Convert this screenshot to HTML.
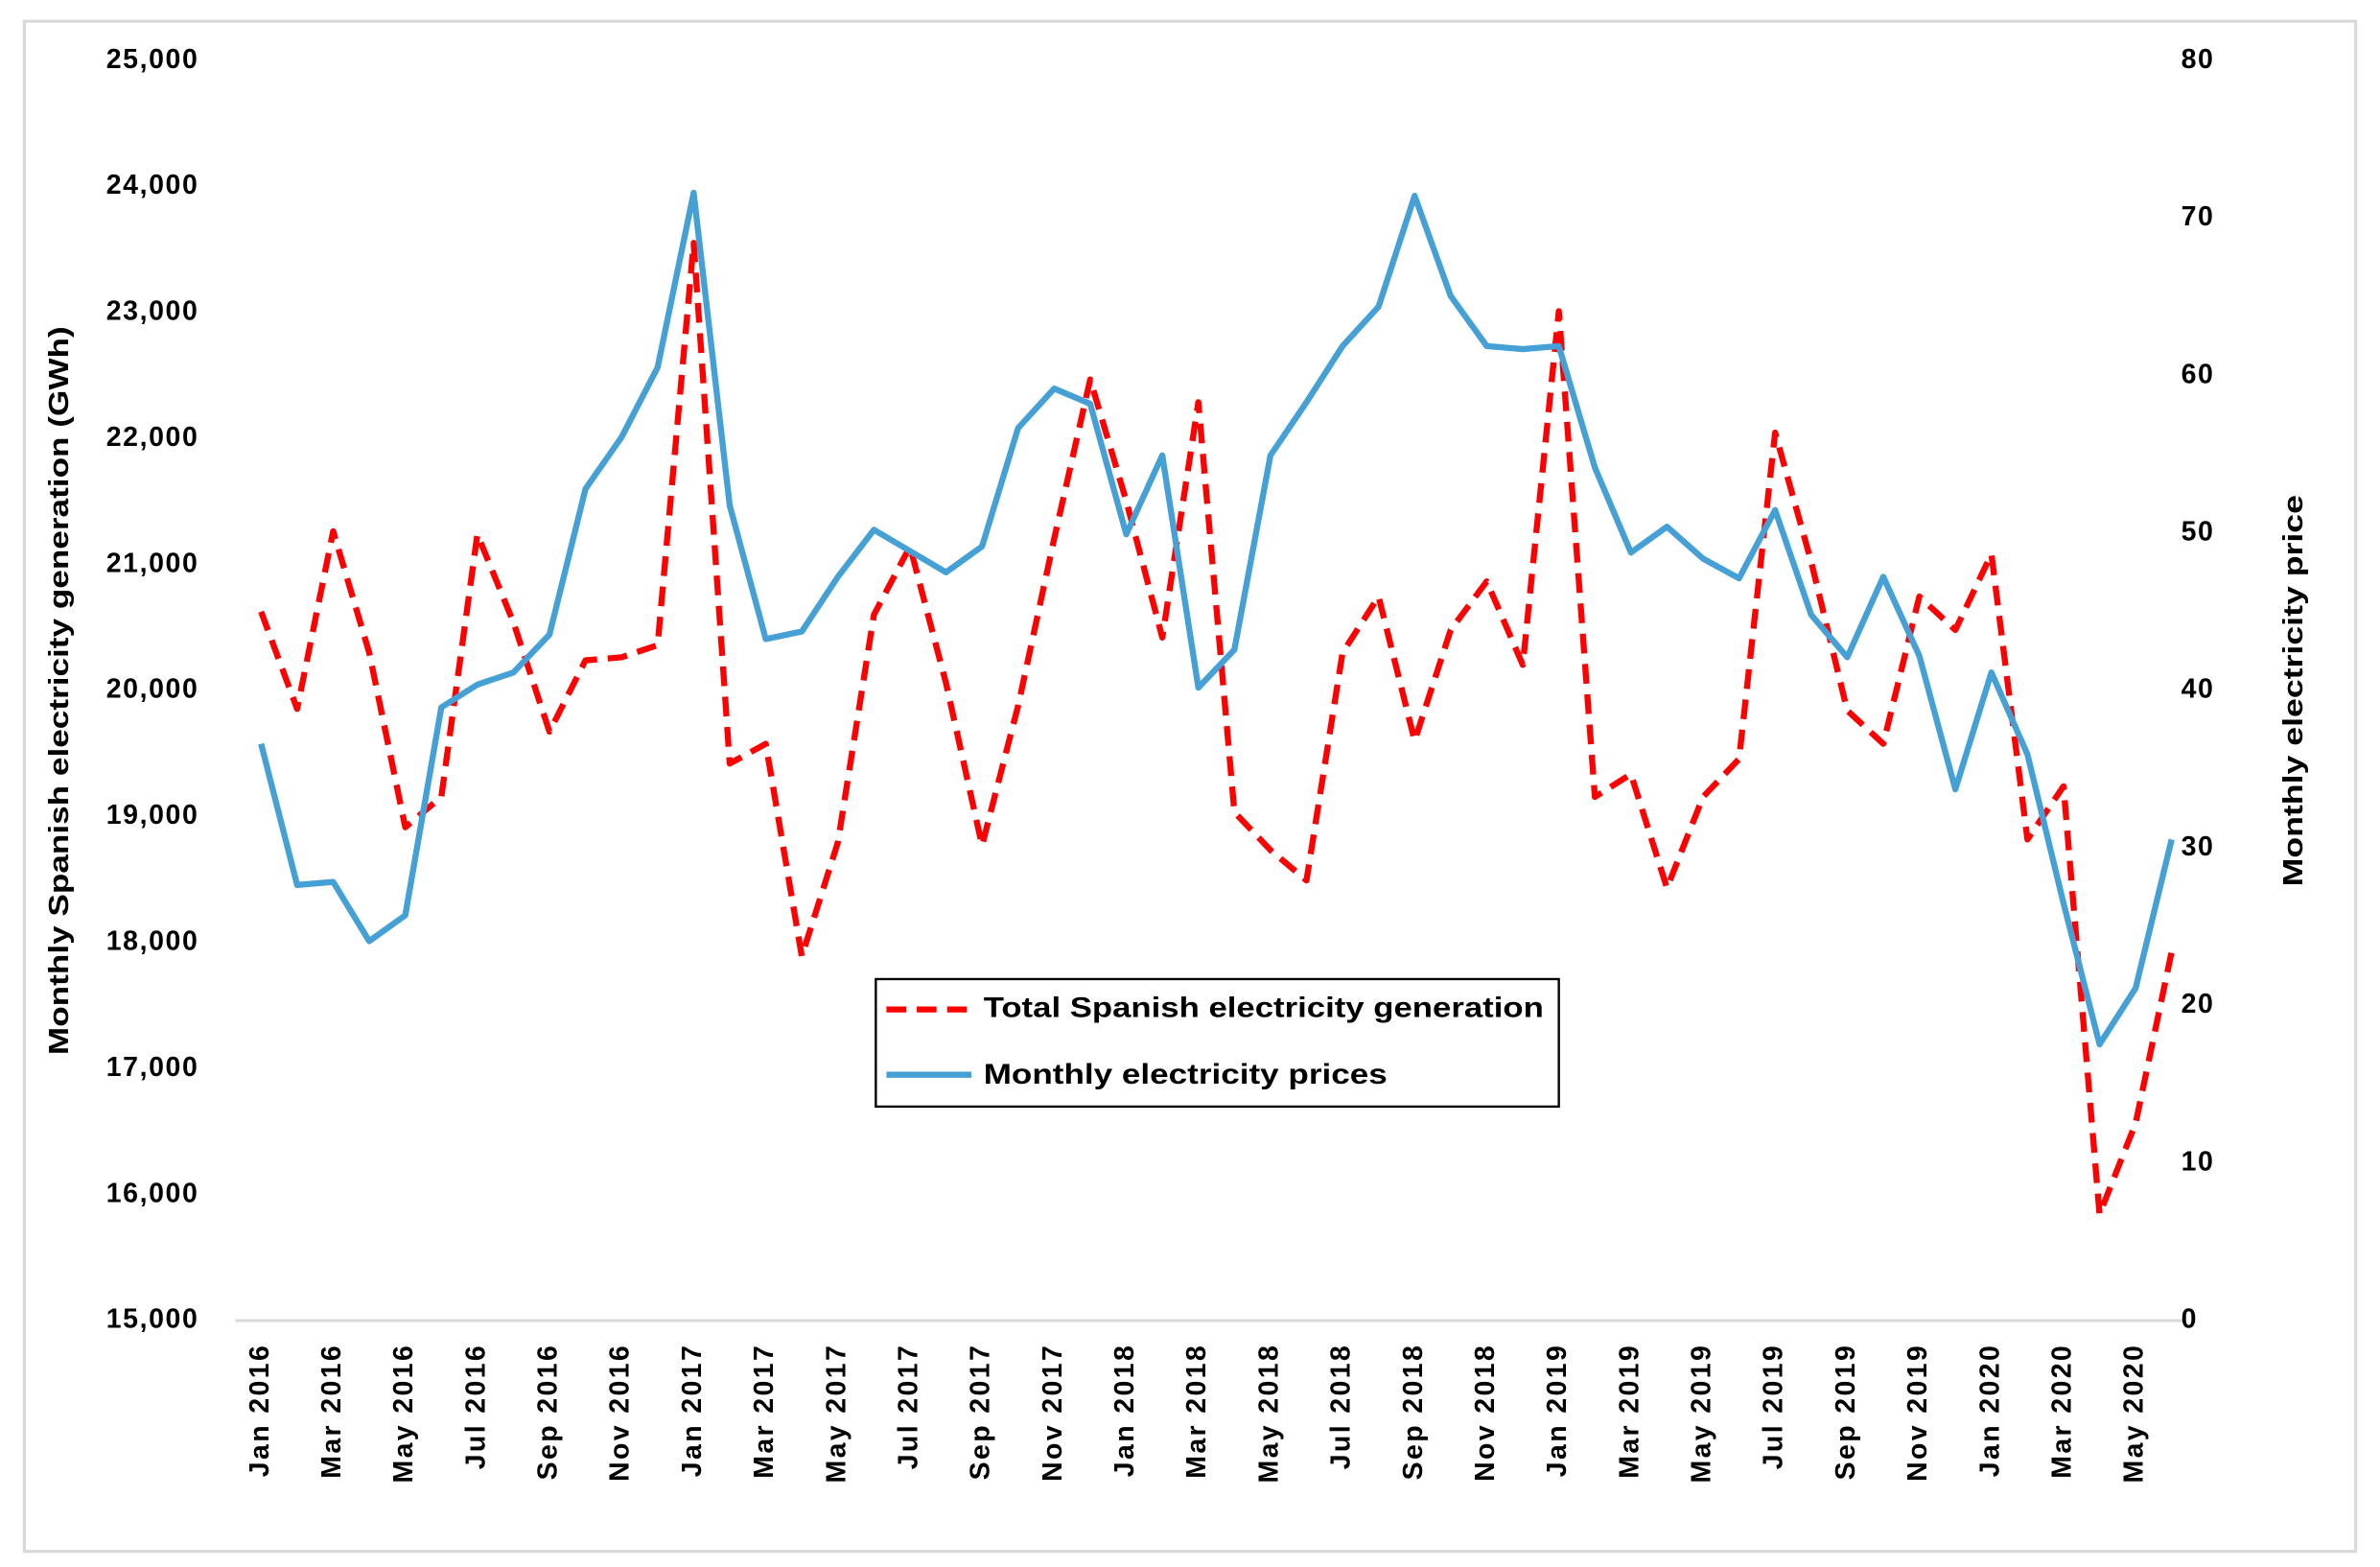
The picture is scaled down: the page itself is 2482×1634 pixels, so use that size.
<!DOCTYPE html>
<html><head><meta charset="utf-8"><style>
html,body{margin:0;padding:0;background:#fff;}
svg{display:block;}
text{font-family:"Liberation Sans",sans-serif;font-weight:bold;fill:#000;}
</style></head><body>
<svg width="2482" height="1634" viewBox="0 0 1568 1032.3" xmlns="http://www.w3.org/2000/svg">
<rect x="0" y="0" width="1568" height="1032.3" fill="#fff"/>
<rect x="16" y="14" width="1536" height="1008" fill="none" stroke="#d9d9d9" stroke-width="2"/>
<line x1="155" y1="870" x2="1440" y2="870" stroke="#d9d9d9" stroke-width="2"/>
<g font-size="18" text-anchor="end" dominant-baseline="middle" letter-spacing="1">
<text x="131" y="40">25,000</text><text x="131" y="123">24,000</text><text x="131" y="206">23,000</text>
<text x="131" y="289">22,000</text><text x="131" y="372">21,000</text><text x="131" y="455">20,000</text>
<text x="131" y="538">19,000</text><text x="131" y="621">18,000</text><text x="131" y="704">17,000</text>
<text x="131" y="787">16,000</text><text x="131" y="870">15,000</text>
</g>
<g font-size="18" text-anchor="start" dominant-baseline="middle" letter-spacing="1">
<text x="1437" y="40">80</text><text x="1437" y="143.75">70</text><text x="1437" y="247.5">60</text>
<text x="1437" y="351.25">50</text><text x="1437" y="455">40</text><text x="1437" y="558.75">30</text>
<text x="1437" y="662.5">20</text><text x="1437" y="766.25">10</text><text x="1437" y="870">0</text>
</g>
<text font-size="18" text-anchor="middle" dominant-baseline="middle" textLength="480" lengthAdjust="spacingAndGlyphs" transform="translate(40,455) rotate(-90)">Monthly Spanish electricity generation (GWh)</text>
<text font-size="18" text-anchor="middle" dominant-baseline="middle" textLength="258" lengthAdjust="spacingAndGlyphs" transform="translate(1512,455) rotate(-90)">Monthly electricity price</text>
<g font-size="18" text-anchor="end" dominant-baseline="middle" letter-spacing="1.5">
<text transform="translate(172,885) rotate(-90)">Jan 2016</text>
<text transform="translate(219.5,885) rotate(-90)">Mar 2016</text>
<text transform="translate(267,885) rotate(-90)">May 2016</text>
<text transform="translate(314.5,885) rotate(-90)">Jul 2016</text>
<text transform="translate(362,885) rotate(-90)">Sep 2016</text>
<text transform="translate(409.5,885) rotate(-90)">Nov 2016</text>
<text transform="translate(457,885) rotate(-90)">Jan 2017</text>
<text transform="translate(504.5,885) rotate(-90)">Mar 2017</text>
<text transform="translate(552,885) rotate(-90)">May 2017</text>
<text transform="translate(599.5,885) rotate(-90)">Jul 2017</text>
<text transform="translate(647,885) rotate(-90)">Sep 2017</text>
<text transform="translate(694.5,885) rotate(-90)">Nov 2017</text>
<text transform="translate(742,885) rotate(-90)">Jan 2018</text>
<text transform="translate(789.5,885) rotate(-90)">Mar 2018</text>
<text transform="translate(837,885) rotate(-90)">May 2018</text>
<text transform="translate(884.5,885) rotate(-90)">Jul 2018</text>
<text transform="translate(932,885) rotate(-90)">Sep 2018</text>
<text transform="translate(979.5,885) rotate(-90)">Nov 2018</text>
<text transform="translate(1027,885) rotate(-90)">Jan 2019</text>
<text transform="translate(1074.5,885) rotate(-90)">Mar 2019</text>
<text transform="translate(1122,885) rotate(-90)">May 2019</text>
<text transform="translate(1169.5,885) rotate(-90)">Jul 2019</text>
<text transform="translate(1217,885) rotate(-90)">Sep 2019</text>
<text transform="translate(1264.5,885) rotate(-90)">Nov 2019</text>
<text transform="translate(1312,885) rotate(-90)">Jan 2020</text>
<text transform="translate(1359.5,885) rotate(-90)">Mar 2020</text>
<text transform="translate(1407,885) rotate(-90)">May 2020</text>
</g>
<polyline fill="none" stroke="#FF0000" stroke-width="4" stroke-dasharray="13,7" stroke-linejoin="round" points="172,403 195.75,467 219.5,350 243.25,430 267,545 290.75,525 314.5,352 338.25,410 362,482 385.75,435 409.5,433 433.25,425 457,160 480.75,503 504.5,490 528.25,630 552,555 575.75,405 599.5,360 623.25,450 647,557 670.75,465 694.5,355 718.25,250 742,330 765.75,420 789.5,265 813.25,535 837,560 860.75,580 884.5,430 908.25,393 932,488 955.75,415 979.5,383 1003.25,438 1027,205 1050.75,525 1074.5,510 1098.25,585 1122,525 1145.75,500 1169.5,285 1193.25,370 1217,468 1240.75,490 1264.5,393 1288.25,415 1312,365 1335.75,553 1359.5,518 1383.25,800 1407,740 1430.75,627"/>
<polyline fill="none" stroke="#45A0D6" stroke-width="4" stroke-linejoin="round" points="172,490 195.75,583 219.5,581 243.25,620 267,603 290.75,466 314.5,451 338.25,443 362,418 385.75,322 409.5,288 433.25,242 457,127 480.75,333 504.5,421 528.25,416 552,380 575.75,349 599.5,363 623.25,377 647,360 670.75,282 694.5,256 718.25,266 742,352 765.75,300 789.5,453 813.25,428 837,300 860.75,265 884.5,228 908.25,202 932,129 955.75,195 979.5,228 1003.25,230 1027,228 1050.75,308 1074.5,364 1098.25,347 1122,368 1145.75,381 1169.5,336 1193.25,405 1217,433 1240.75,380 1264.5,432 1288.25,520 1312,443 1335.75,497 1359.5,595 1383.25,688 1407,651 1430.75,553"/>
<rect x="577" y="645" width="450" height="84" fill="#fff" stroke="#000" stroke-width="1.5"/>
<line x1="584" y1="665" x2="640" y2="665" stroke="#FF0000" stroke-width="4" stroke-dasharray="13,7"/>
<line x1="584" y1="708" x2="640" y2="708" stroke="#45A0D6" stroke-width="4"/>
<g font-size="19" dominant-baseline="middle">
<text x="648" y="665" textLength="369" lengthAdjust="spacingAndGlyphs">Total Spanish electricity generation</text>
<text x="648" y="709" textLength="266" lengthAdjust="spacingAndGlyphs">Monthly electricity prices</text>
</g>
</svg>
</body></html>
